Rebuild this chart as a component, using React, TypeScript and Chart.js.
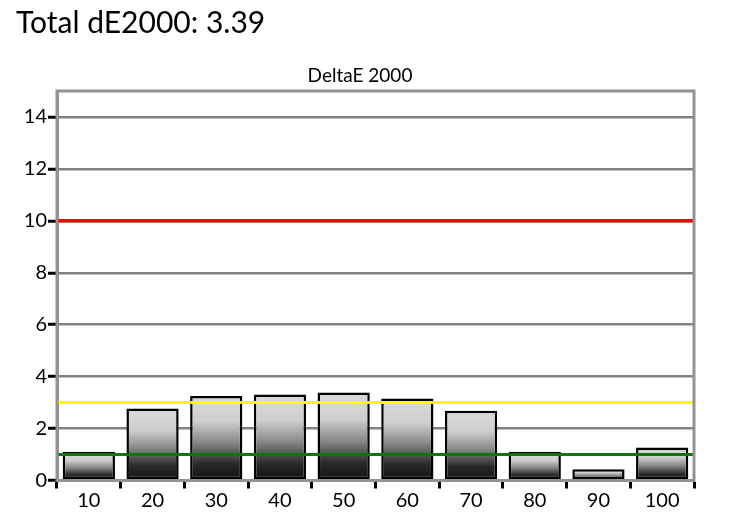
import React, { useEffect, useRef } from "react";
import { Chart, registerables } from "chart.js";

Chart.register(...registerables);

const chartTitle = "Total dE2000: 3.39";
const panelTitle = "DeltaE 2000";
const categories = ["10", "20", "30", "40", "50", "60", "70", "80", "90", "100"];
const deltaE = [1.11, 2.77, 3.25, 3.31, 3.39, 3.16, 2.69, 1.11, 0.43, 1.27];
const thresholdValues = [10, 3, 1];
const thresholdColors = ["#ff0000", "#ffff00", "#087808"];
const yTickValues = [0, 2, 4, 6, 8, 10, 12, 14];
const yMax = 15;

const FONT = "Lato, 'Open Sans', sans-serif";

const overlayPlugin = {
  id: "overlay",
  afterDatasetsDraw(chart: any) {
    const { ctx, chartArea } = chart;
    const y = chart.scales.y;
    ctx.save();
    thresholdValues.forEach((v, i) => {
      const py = y.getPixelForValue(v);
      ctx.strokeStyle = thresholdColors[i];
      ctx.lineWidth = i === 0 ? 3.5 : 3;
      ctx.beginPath();
      ctx.moveTo(chartArea.left, py);
      ctx.lineTo(chartArea.right, py);
      ctx.stroke();
    });
    ctx.strokeStyle = "#939393";
    ctx.lineWidth = 3;
    ctx.strokeRect(chartArea.left, chartArea.top, chartArea.right - chartArea.left, chartArea.bottom - chartArea.top);
    ctx.restore();
  },
  afterDraw(chart: any) {
    const { ctx } = chart;
    ctx.save();
    ctx.fillStyle = "#000";
    ctx.textBaseline = "alphabetic";
    ctx.textAlign = "left";
    ctx.font = `30px ${FONT}`;
    ctx.fillText(chartTitle, 16, 33);
    ctx.textAlign = "center";
    ctx.font = `19px ${FONT}`;
    ctx.fillText(panelTitle, 360, 82);
    ctx.restore();
  },
};

export default function App() {
  const ref = useRef<HTMLCanvasElement>(null);
  useEffect(() => {
    document.body.style.margin = "0";
    const canvas = ref.current!;
    const chart = new Chart(canvas, {
      type: "bar",
      data: {
        labels: categories,
        datasets: [
          {
            data: deltaE,
            borderColor: "#000",
            borderWidth: 2.5,
            borderSkipped: false,
            barPercentage: 0.82,
            categoryPercentage: 1,
            backgroundColor: (c: any) => {
              const ch = c.chart;
              if (!ch.chartArea || c.type !== "data" || !c.parsed) return "#888";
              const ys = ch.scales.y;
              const top = ys.getPixelForValue(c.parsed.y);
              const base = ys.getPixelForValue(0);
              const g = ch.ctx.createLinearGradient(0, top, 0, base);
              g.addColorStop(0, "#dadada");
              g.addColorStop(0.3, "#cfcfcf");
              g.addColorStop(0.55, "#888888");
              g.addColorStop(0.8, "#2a2a2a");
              g.addColorStop(1, "#121212");
              return g;
            },
          },
        ],
      },
      options: {
        responsive: false,
        animation: false,
        events: [],
        layout: { padding: { top: 91, right: 43, left: 0, bottom: 0 } },
        plugins: { legend: { display: false }, tooltip: { enabled: false }, title: { display: false } },
        scales: {
          x: {
            afterFit: (s: any) => {
              s.height = 46.5;
            },
            grid: {
              display: true,
              offset: true,
              drawOnChartArea: false,
              drawTicks: true,
              tickLength: 8,
              tickColor: "#000",
              tickWidth: 3,
            },
            border: { display: true, color: "#939393", width: 3 },
            ticks: { color: "#000", font: { family: FONT, size: 20 }, padding: 0 },
          },
          y: {
            min: 0,
            max: yMax,
            afterFit: (s: any) => {
              s.width = 57;
            },
            afterBuildTicks: (s: any) => {
              s.ticks = yTickValues.map((v) => ({ value: v }));
            },
            grid: {
              color: "#828282",
              lineWidth: 2.5,
              drawTicks: true,
              tickLength: 9,
              tickColor: "#000",
              tickWidth: 3,
            },
            border: { display: true, color: "#939393", width: 3 },
            ticks: { color: "#000", font: { family: FONT, size: 20 }, padding: 1 },
          },
        },
      },
      plugins: [overlayPlugin],
    });
    return () => chart.destroy();
  }, []);
  return <canvas ref={ref} width={737} height={527} style={{ display: "block" }} />;
}
